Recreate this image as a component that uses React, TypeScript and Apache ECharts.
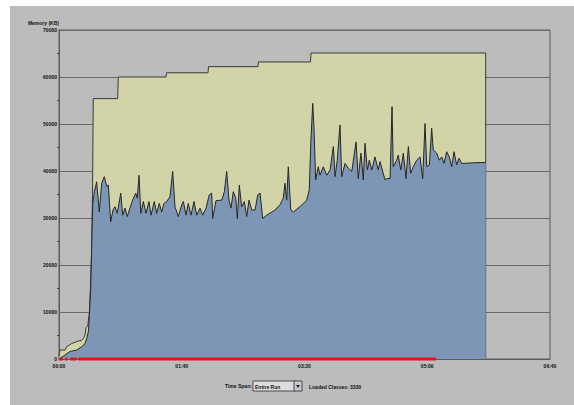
import React, { useEffect, useRef } from "react";
import * as echarts from "echarts";

// Time in minutes since start, memory in KB
const committedMinutes = [0, 0.8, 4.9, 6.3, 10.3, 14.4, 18.5, 19.8, 21.2, 22.0, 23.4, 24.7, 25.8, 26.6, 27.3, 27.9, 47.8, 48.3, 87.2, 87.6, 121.4, 121.8, 162.1, 162.5, 204.9, 205.3, 347.6, 347.6];
const committedKB = [500, 1900, 1900, 2600, 3300, 3700, 4000, 4300, 5100, 6700, 7000, 9700, 16100, 23200, 35000, 55400, 55400, 60000, 60000, 60900, 60900, 62200, 62200, 63200, 63200, 65100, 65100, 0];

const usedMinutes = [0, 3.5, 9.0, 14.4, 18.5, 21.2, 22.6, 23.9, 24.7, 25.8, 26.6, 27.1, 27.5, 28.8, 30.7, 32.8, 34.8, 36.9, 38.9, 40.2, 42.1, 44.0, 45.6, 47.5, 50.3, 51.9, 53.8, 55.6, 57.8, 60.0, 62.5, 63.8, 65.2, 66.6, 68.7, 70.9, 73.3, 75.0, 77.6, 79.6, 81.7, 83.7, 85.5, 87.7, 90.4, 92.6, 94.5, 97.2, 100.0, 101.3, 103.5, 105.3, 107.5, 110.0, 112.2, 114.9, 117.1, 119.8, 122.4, 124.4, 125.2, 127.9, 132.6, 134.7, 136.6, 138.5, 140.1, 142.0, 144.0, 145.3, 146.9, 148.8, 151.0, 152.9, 154.8, 157.0, 159.7, 161.9, 163.8, 165.9, 169.2, 176.0, 180.0, 182.7, 184.1, 185.5, 186.8, 188.8, 190.9, 196.3, 201.8, 203.9, 205.1, 206.7, 207.7, 209.1, 211.2, 212.6, 215.3, 218.1, 220.8, 223.5, 224.9, 226.7, 228.9, 230.3, 233.0, 235.7, 238.5, 242.0, 243.8, 246.0, 247.9, 249.3, 251.2, 252.8, 254.8, 257.4, 260.1, 261.5, 265.6, 267.0, 269.7, 271.3, 272.3, 275.1, 276.4, 278.4, 280.5, 282.7, 284.6, 286.5, 288.6, 291.4, 294.1, 296.3, 298.2, 299.6, 301.7, 303.6, 304.9, 307.7, 309.8, 311.8, 313.6, 315.8, 318.0, 319.9, 321.8, 324.0, 325.9, 328.1, 334.8, 343.0, 347.6];
const usedKB = [0, 600, 1600, 1900, 2600, 3300, 4400, 5800, 9000, 14700, 23200, 29100, 33100, 35600, 37700, 31300, 37400, 38800, 36700, 37000, 29200, 31700, 32400, 31000, 35300, 30600, 32100, 30300, 32100, 33800, 35300, 34200, 39100, 31000, 33500, 31000, 33500, 30600, 33500, 31000, 33100, 31300, 33100, 33500, 34500, 39900, 32400, 30300, 32800, 33500, 30600, 33100, 30600, 33500, 30600, 32100, 30600, 32100, 34900, 35300, 29900, 33700, 33800, 35600, 39900, 33800, 32100, 35600, 34200, 29900, 37000, 32400, 33500, 30300, 33800, 31700, 31700, 34900, 35300, 29900, 30600, 31700, 32800, 34200, 37400, 33800, 40900, 31700, 31300, 32400, 33800, 36000, 45900, 54400, 49400, 38100, 40900, 39100, 40900, 39100, 40200, 45200, 38800, 42300, 49800, 38800, 41600, 40600, 39900, 46200, 38400, 43800, 38100, 45900, 40200, 42300, 40200, 43000, 40200, 42000, 38100, 38400, 38400, 53700, 40900, 42300, 43400, 40200, 43800, 38400, 45200, 39500, 40900, 42300, 43000, 38400, 50100, 40900, 41300, 49100, 44500, 43800, 42300, 43000, 41600, 44100, 43000, 40900, 44100, 41300, 42700, 41600, 41700, 41800, 41800];

// GC activity indicator segments along the time axis [start, end] in minutes
const gcStart = [0, 5.0, 9.0, 15.7];
const gcEnd = [3.3, 7.1, 14.4, 307.1];

const yTicks = [0, 10000, 20000, 30000, 40000, 50000, 60000, 70000];
const xTickMinutes = [0, 100, 200, 300, 400];

const loadedClasses = "3330";
const timeSpan = "Entire Run";

const FONT = "'Liberation Sans', Arial, sans-serif";

function fmtTime(m: number): string {
  const h = Math.floor(m / 60);
  const mm = Math.round(m - h * 60);
  return String(h).padStart(2, "0") + ":" + String(mm).padStart(2, "0");
}

export default function App() {
  const ref = useRef<HTMLDivElement>(null);
  useEffect(() => {
    if (!ref.current) return;
    const chart = echarts.init(ref.current, null, { renderer: "svg" });
    const committed = committedMinutes.map((t, i) => [t, committedKB[i]]);
    const used = usedMinutes.map((t, i) => [t, usedKB[i]]);
    const gcSeries = gcStart.map((s, i) => ({
      type: "line",
      data: [[s, 0], [gcEnd[i], 0]],
      showSymbol: false,
      symbol: "none",
      clip: false,
      z: 10,
      lineStyle: { color: "#e4141b", width: 3 },
      silent: true,
    }));
    chart.setOption({
      animation: false,
      backgroundColor: "#bcbcbc",
      grid: {
        left: 49,
        top: 24,
        right: 24,
        bottom: 46,
        show: true,
        borderColor: "#5a5a5a",
        borderWidth: 1,
        backgroundColor: "transparent",
      },
      xAxis: {
        type: "value",
        min: xTickMinutes[0],
        max: xTickMinutes[xTickMinutes.length - 1],
        interval: 100,
        axisLine: { show: true, lineStyle: { color: "#5a5a5a", width: 1 } },
        axisTick: { show: false },
        splitLine: { show: false },
        axisLabel: {
          formatter: (v: number) => fmtTime(v),
          fontSize: 5,
          fontWeight: "bold",
          fontFamily: FONT,
          color: "#111",
          margin: 4,
        },
      },
      yAxis: {
        type: "value",
        min: yTicks[0],
        max: yTicks[yTicks.length - 1],
        interval: 10000,
        name: "Memory (KB)",
        nameLocation: "end",
        nameGap: 5,
        nameTextStyle: {
          align: "right",
          verticalAlign: "bottom",
          fontSize: 5,
          fontWeight: "bold",
          fontFamily: FONT,
          color: "#111",
          padding: [0, 0, 0, 0],
        },
        axisLine: { show: true, lineStyle: { color: "#5a5a5a", width: 1 } },
        axisTick: { show: false },
        minorTick: { show: true, splitNumber: 2, length: 2, lineStyle: { color: "#444", width: 1 } },
        splitLine: { show: true, lineStyle: { color: "#6a6a6a", width: 1 } },
        axisLabel: {
          formatter: (v: number) => String(v),
          fontSize: 5,
          fontWeight: "bold",
          fontFamily: FONT,
          color: "#111",
          margin: 2,
        },
      },
      series: [
        {
          type: "line",
          data: committed,
          showSymbol: false,
          symbol: "none",
          z: 2,
          lineStyle: { color: "#3a3a3a", width: 1 },
          areaStyle: { color: "#d3d3a8", opacity: 1 },
          silent: true,
        },
        {
          type: "line",
          data: used,
          showSymbol: false,
          symbol: "none",
          z: 3,
          lineStyle: { color: "#262626", width: 1 },
          areaStyle: { color: "#7e96b6", opacity: 1 },
          silent: true,
        },
        ...gcSeries,
      ],
      graphic: [
        {
          type: "text",
          left: 215,
          top: 377,
          style: { text: "Time Span:", fontSize: 5, fontWeight: "bold", fontFamily: FONT, fill: "#111" },
        },
        {
          type: "rect",
          shape: { x: 243, y: 375, width: 42, height: 10 },
          style: { fill: "#dedede", stroke: "#4a4a4a", lineWidth: 1 },
        },
        {
          type: "text",
          x: 245,
          y: 380.5,
          style: { text: timeSpan, fontSize: 5, fontWeight: "bold", fontFamily: FONT, fill: "#111", textVerticalAlign: "middle" },
        },
        {
          type: "rect",
          shape: { x: 284, y: 375, width: 8, height: 10 },
          style: { fill: "#c4c8d0", stroke: "#4a4a4a", lineWidth: 1 },
        },
        {
          type: "polygon",
          shape: { points: [[286, 379], [290, 379], [288, 382]] },
          style: { fill: "#222" },
        },
        {
          type: "text",
          x: 299,
          y: 381,
          style: { text: "Loaded Classes:", fontSize: 5, fontWeight: "bold", fontFamily: FONT, fill: "#111", textVerticalAlign: "middle" },
        },
        {
          type: "text",
          x: 340,
          y: 381,
          style: { text: loadedClasses, fontSize: 5, fontWeight: "bold", fontFamily: FONT, fill: "#111", textVerticalAlign: "middle" },
        },
      ],
    });
    return () => chart.dispose();
  }, []);
  return (
    <div style={{ position: "fixed", left: 0, top: 0, width: 574, height: 405, background: "#ffffff" }}>
      <div ref={ref} style={{ position: "absolute", left: 10, top: 6, width: 564, height: 399 }} />
    </div>
  );
}
